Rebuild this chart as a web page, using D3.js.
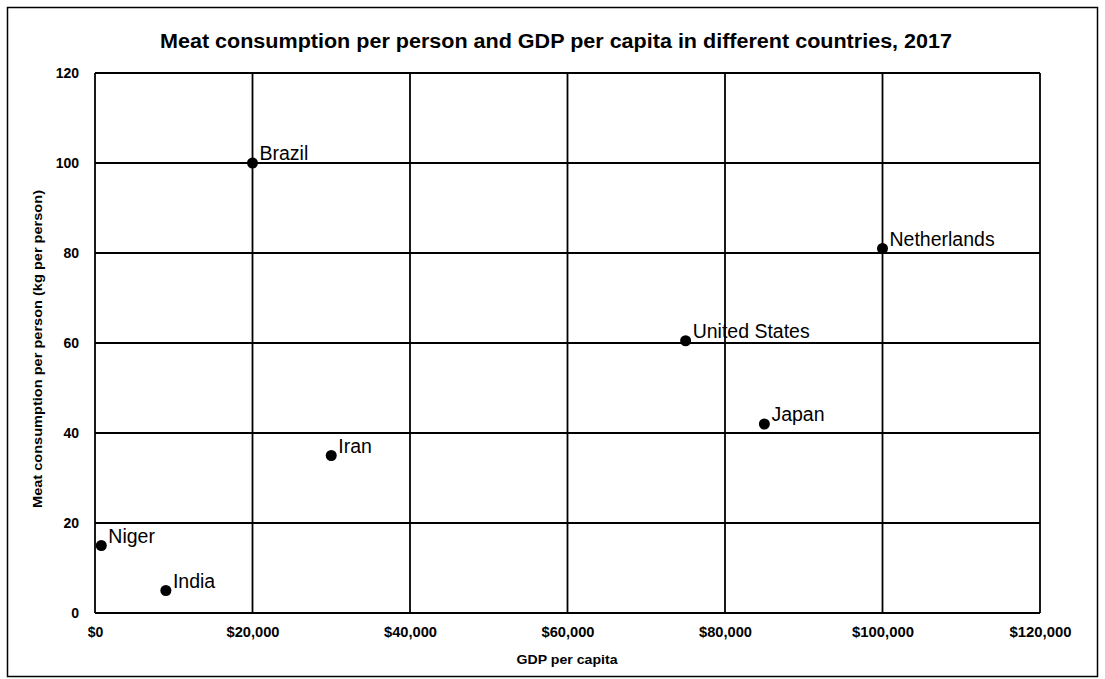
<!DOCTYPE html>
<html><head><meta charset="utf-8">
<script src="https://cdn.jsdelivr.net/npm/d3@7"></script>
<style>body{margin:0;background:#fff}svg{display:block}</style>
</head><body>
<svg id="c" width="1105" height="679"></svg>
<script>
const countries = ["Brazil","Netherlands","United States","Japan","Iran","Niger","India"];
const gdpPerCapita = [20000,100000,75000,85000,30000,800,9000];
const meatKg = [100,81,60.5,42,35,15,5];
const xTicks = [0,20000,40000,60000,80000,100000,120000];
const yTicks = [0,20,40,60,80,100,120];
const titleText = "Meat consumption per person and GDP per capita in different countries, 2017";
const xTitle = "GDP per capita";
const yTitle = "Meat consumption per person (kg per person)";

const svg = d3.select("#c");
const m = {l:95, r:1040, t:73, b:613};
const x = d3.scaleLinear().domain([0,120000]).range([m.l,m.r]);
const y = d3.scaleLinear().domain([0,120]).range([m.b,m.t]);
const ff = "Liberation Sans, Arial, sans-serif";

svg.append("rect").attr("x",7.5).attr("y",7.5).attr("width",1090).attr("height",669)
  .attr("fill","none").attr("stroke","#000").attr("stroke-width",1.5);

svg.append("text").attr("x",556).attr("y",48).attr("text-anchor","middle")
  .attr("font-family",ff).attr("font-weight","bold")
  .attr("font-size",20).attr("textLength",792).attr("lengthAdjust","spacingAndGlyphs")
  .text(titleText);

// grid
const g = svg.append("g");
g.selectAll(".gx").data(xTicks).join("line")
  .attr("x1",d=>x(d)).attr("x2",d=>x(d)).attr("y1",m.t).attr("y2",m.b)
  .attr("stroke","#000").attr("stroke-width",1.8);
g.selectAll(".gy").data(yTicks).join("line")
  .attr("y1",d=>y(d)).attr("y2",d=>y(d)).attr("x1",m.l).attr("x2",m.r)
  .attr("stroke","#000").attr("stroke-width",1.8);

const fmt = d => "$" + d3.format(",")(d);
const xAxis = d3.axisBottom(x).tickValues(xTicks).tickFormat(fmt).tickSize(0).tickPadding(14);
const yAxis = d3.axisLeft(y).tickValues(yTicks).tickSize(0).tickPadding(16);
const xa = svg.append("g").attr("transform",`translate(0,${m.b})`).call(xAxis);
const ya = svg.append("g").attr("transform",`translate(${m.l},0)`).call(yAxis);
[xa,ya].forEach(a=>{
  a.select(".domain").remove();
  a.selectAll("text").attr("font-family",ff)
   .attr("font-weight","bold").attr("font-size",14).attr("fill","#000");
});
xa.selectAll("text").attr("textLength",53).attr("lengthAdjust","spacingAndGlyphs")
  .filter(d=>d===0).attr("textLength",null);
xa.selectAll("text").filter(d=>d>=100000).attr("textLength",62);

svg.append("text").attr("x",567).attr("y",664).attr("text-anchor","middle")
  .attr("font-family",ff).attr("font-weight","bold")
  .attr("font-size",13).attr("textLength",101).attr("lengthAdjust","spacingAndGlyphs").text(xTitle);
svg.append("text").attr("transform","translate(42,349) rotate(-90)").attr("text-anchor","middle")
  .attr("font-family",ff).attr("font-weight","bold")
  .attr("font-size",12.5).attr("textLength",318).attr("lengthAdjust","spacingAndGlyphs").text(yTitle);

const data = countries.map((c,i)=>({c, gx:gdpPerCapita[i], my:meatKg[i]}));
svg.selectAll(".pt").data(data).join("circle")
  .attr("cx",d=>x(d.gx)).attr("cy",d=>y(d.my)).attr("r",5.5).attr("fill","#000");
svg.selectAll(".lb").data(data).join("text")
  .attr("x",d=>x(d.gx)+7).attr("y",d=>y(d.my)-3)
  .attr("font-family",ff).attr("font-size",19.5).attr("fill","#000")
  .text(d=>d.c);
</script>
</body></html>
